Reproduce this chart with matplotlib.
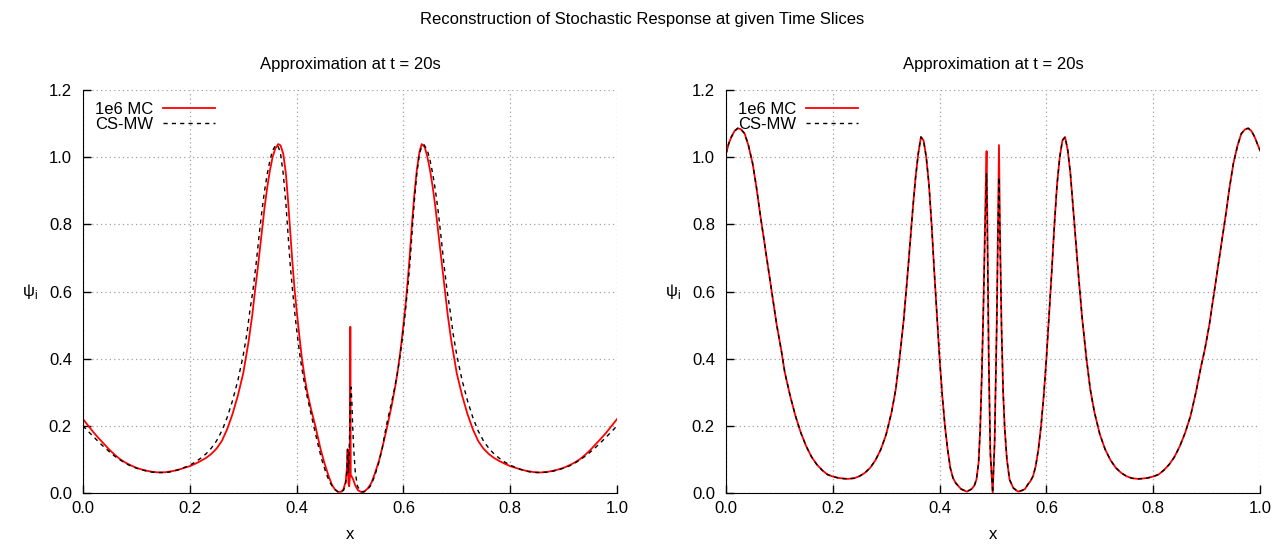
import matplotlib
matplotlib.use("Agg")
import matplotlib.pyplot as plt
from matplotlib.ticker import FormatStrFormatter

plt.rcParams['font.family'] = ['Liberation Sans', 'DejaVu Sans']
plt.rcParams['font.size'] = 12
plt.rcParams['mathtext.fontset'] = 'custom'
plt.rcParams['mathtext.rm'] = 'Liberation Sans'

# ---- data ----
# left panel, 1e6 MC
x_mc_left = [0.0, 0.01, 0.02, 0.03, 0.04, 0.05, 0.06, 0.07, 0.08, 0.09, 0.10, 0.11, 0.12, 0.13,
             0.144, 0.155, 0.17, 0.18, 0.19, 0.2, 0.21, 0.22, 0.23, 0.24, 0.25, 0.26, 0.27, 0.28,
             0.29, 0.30, 0.31, 0.317, 0.322, 0.328, 0.335, 0.34, 0.345, 0.35, 0.355, 0.36, 0.3657,
             0.37, 0.375, 0.38, 0.384, 0.388, 0.392, 0.396, 0.40, 0.405, 0.41, 0.415, 0.42, 0.427,
             0.435, 0.445, 0.452, 0.46, 0.466, 0.472, 0.478, 0.484, 0.488, 0.492, 0.494, 0.4955,
             0.497, 0.4985, 0.4998, 0.5006, 0.5014, 0.503, 0.506, 0.51, 0.515, 0.521, 0.527, 0.533,
             0.54, 0.547, 0.555, 0.562, 0.57, 0.578, 0.585, 0.59, 0.595, 0.6, 0.604, 0.608, 0.612,
             0.616, 0.62, 0.625, 0.63, 0.6343, 0.64, 0.645, 0.65, 0.655, 0.66, 0.665, 0.672, 0.678,
             0.683, 0.69, 0.70, 0.71, 0.72, 0.73, 0.74, 0.75, 0.76, 0.77, 0.78, 0.79, 0.8, 0.81,
             0.82, 0.83, 0.845, 0.856, 0.87, 0.88, 0.89, 0.90, 0.91, 0.92, 0.93, 0.94, 0.95, 0.96,
             0.97, 0.98, 0.99, 1.0]
psi_mc_left = [0.22, 0.2, 0.18, 0.162, 0.145, 0.128, 0.113, 0.1, 0.09, 0.082, 0.075, 0.07, 0.066, 0.063,
               0.061, 0.062, 0.066, 0.07, 0.075, 0.08, 0.087, 0.095, 0.104, 0.116, 0.132, 0.155, 0.19, 0.235,
               0.29, 0.356, 0.45, 0.53, 0.6, 0.68, 0.78, 0.85, 0.91, 0.96, 1.0, 1.025, 1.039,
               1.035, 1.01, 0.95, 0.87, 0.78, 0.69, 0.61, 0.545, 0.47, 0.4, 0.345, 0.3, 0.25,
               0.2, 0.13, 0.09, 0.05, 0.025, 0.01, 0.003, 0.004, 0.012, 0.035, 0.07, 0.13,
               0.03, 0.02, 0.05, 0.495, 0.05, 0.05, 0.04, 0.022, 0.008, 0.003, 0.005, 0.013,
               0.03, 0.06, 0.1, 0.145, 0.2, 0.26, 0.32, 0.37, 0.43, 0.5, 0.56, 0.63, 0.71,
               0.8, 0.88, 0.96, 1.015, 1.039, 1.03, 1.0, 0.96, 0.91, 0.85, 0.78, 0.68, 0.6,
               0.53, 0.45, 0.356, 0.29, 0.235, 0.19, 0.155, 0.132, 0.116, 0.104, 0.095, 0.087, 0.08, 0.075,
               0.07, 0.066, 0.062, 0.061, 0.063, 0.066, 0.07, 0.075, 0.082, 0.09, 0.1, 0.113, 0.128, 0.145,
               0.162, 0.18, 0.2, 0.22]

# left panel, CS-MW
x_cs_left = [0.0, 0.01, 0.02, 0.03, 0.04, 0.05, 0.06, 0.07, 0.08, 0.09, 0.10, 0.11, 0.12, 0.13,
             0.15, 0.16, 0.17, 0.18, 0.19, 0.2, 0.21, 0.22, 0.23, 0.24, 0.25, 0.26, 0.27, 0.28,
             0.29, 0.30, 0.307, 0.3127, 0.318, 0.324, 0.33, 0.335, 0.34, 0.345, 0.35, 0.355, 0.3614,
             0.366, 0.37, 0.375, 0.38, 0.384, 0.388, 0.392, 0.397, 0.402, 0.407, 0.412, 0.418, 0.425,
             0.432, 0.44, 0.447, 0.455, 0.462, 0.47, 0.477, 0.483, 0.488, 0.492, 0.4945, 0.4955,
             0.497, 0.499, 0.5005, 0.502, 0.5035, 0.505, 0.507, 0.51, 0.514, 0.52, 0.525, 0.53,
             0.538, 0.545, 0.553, 0.56, 0.568, 0.575, 0.582, 0.588, 0.593, 0.598, 0.603, 0.608,
             0.612, 0.616, 0.62, 0.625, 0.63, 0.634, 0.6386, 0.645, 0.65, 0.655, 0.66, 0.665, 0.67,
             0.676, 0.682, 0.6873, 0.693, 0.70, 0.71, 0.72, 0.73, 0.74, 0.75, 0.76, 0.77, 0.78,
             0.79, 0.8, 0.81, 0.82, 0.83, 0.84, 0.85, 0.87, 0.88, 0.89, 0.90, 0.91, 0.92, 0.93,
             0.94, 0.95, 0.96, 0.97, 0.98, 0.99, 1.0]
psi_cs_left = [0.2, 0.183, 0.167, 0.151, 0.136, 0.122, 0.109, 0.098, 0.088, 0.08, 0.074, 0.069, 0.065, 0.062,
               0.061, 0.062, 0.065, 0.07, 0.076, 0.083, 0.092, 0.103, 0.116, 0.133, 0.155, 0.185, 0.225, 0.275,
               0.335, 0.41, 0.475, 0.545, 0.6, 0.68, 0.77, 0.84, 0.9, 0.95, 0.99, 1.02, 1.037,
               1.03, 1.01, 0.95, 0.86, 0.77, 0.68, 0.61, 0.53, 0.46, 0.4, 0.35, 0.3, 0.25,
               0.2, 0.145, 0.1, 0.06, 0.032, 0.013, 0.004, 0.003, 0.008, 0.03, 0.07, 0.13,
               0.06, 0.16, 0.28, 0.315, 0.27, 0.2, 0.13, 0.06, 0.02, 0.005, 0.003, 0.006,
               0.02, 0.045, 0.085, 0.13, 0.2, 0.25, 0.3, 0.35, 0.4, 0.46, 0.53, 0.61,
               0.68, 0.77, 0.86, 0.95, 1.01, 1.03, 1.037, 1.02, 0.99, 0.95, 0.9, 0.84, 0.77,
               0.68, 0.6, 0.545, 0.475, 0.41, 0.335, 0.275, 0.225, 0.185, 0.155, 0.133, 0.116, 0.103,
               0.092, 0.083, 0.076, 0.07, 0.065, 0.062, 0.061, 0.062, 0.065, 0.069, 0.074, 0.08, 0.088, 0.098,
               0.109, 0.122, 0.136, 0.151, 0.167, 0.183, 0.2]

# right panel (both series on the same x points)
x_right = [0.0, 0.005, 0.01, 0.016, 0.022, 0.028, 0.035, 0.042, 0.05, 0.057, 0.064, 0.072, 0.08,
           0.088, 0.095, 0.103, 0.11, 0.12, 0.13, 0.14, 0.15, 0.16, 0.17, 0.18, 0.19, 0.2, 0.21,
           0.22, 0.228, 0.24, 0.25, 0.26, 0.27, 0.28, 0.29, 0.3, 0.31, 0.318, 0.325, 0.333, 0.34,
           0.345, 0.35, 0.355, 0.36, 0.365, 0.37, 0.375, 0.38, 0.385, 0.39, 0.395, 0.40, 0.405,
           0.41, 0.415, 0.42, 0.425, 0.43, 0.44, 0.451, 0.46, 0.465, 0.469, 0.473, 0.476, 0.479,
           0.482, 0.485, 0.4865, 0.488, 0.4895, 0.492, 0.495, 0.4994, 0.503, 0.507, 0.5095, 0.5112,
           0.5131, 0.516, 0.519, 0.522, 0.526, 0.531, 0.538, 0.547, 0.555, 0.56, 0.565, 0.57,
           0.575, 0.58, 0.585, 0.59, 0.595, 0.6, 0.605, 0.61, 0.615, 0.62, 0.625, 0.63, 0.635,
           0.64, 0.645, 0.65, 0.655, 0.66, 0.667, 0.675, 0.682, 0.69, 0.7, 0.71, 0.72, 0.73, 0.74,
           0.75, 0.76, 0.772, 0.78, 0.79, 0.8, 0.81, 0.82, 0.83, 0.84, 0.85, 0.86, 0.87, 0.88,
           0.89, 0.897, 0.905, 0.912, 0.92, 0.928, 0.936, 0.943, 0.95, 0.958, 0.965, 0.972, 0.978,
           0.984, 0.99, 0.995, 1.0]
psi_mc_right = [1.01, 1.04, 1.06, 1.078, 1.086, 1.083, 1.07, 1.035, 0.98, 0.91, 0.83, 0.745, 0.66,
                0.575, 0.5, 0.43, 0.36, 0.29, 0.23, 0.18, 0.14, 0.108, 0.085, 0.068, 0.055, 0.049, 0.045,
                0.043, 0.042, 0.044, 0.05, 0.06, 0.075, 0.098, 0.13, 0.175, 0.24, 0.31, 0.4, 0.52, 0.65,
                0.75, 0.85, 0.94, 1.01, 1.06, 1.05, 1.0, 0.92, 0.8, 0.66, 0.53, 0.4, 0.29,
                0.2, 0.13, 0.075, 0.045, 0.03, 0.012, 0.004, 0.012, 0.022, 0.04, 0.09, 0.19, 0.35,
                0.55, 0.8, 0.92, 1.018, 0.8, 0.4, 0.12, 0.0, 0.15, 0.5, 0.82, 1.036,
                0.78, 0.49, 0.3, 0.19, 0.1, 0.04, 0.015, 0.004, 0.008, 0.012, 0.025, 0.035,
                0.05, 0.08, 0.13, 0.2, 0.29, 0.4, 0.53, 0.66, 0.8, 0.92, 1.0, 1.05, 1.06,
                1.02, 0.95, 0.85, 0.75, 0.65, 0.52, 0.4, 0.31, 0.24, 0.175, 0.13, 0.098, 0.075, 0.06,
                0.05, 0.044, 0.042, 0.043, 0.045, 0.049, 0.055, 0.068, 0.085, 0.108, 0.14, 0.18, 0.23, 0.3,
                0.38, 0.43, 0.5, 0.575, 0.66, 0.745, 0.83, 0.91, 0.98, 1.035, 1.07, 1.083, 1.086,
                1.078, 1.06, 1.04, 1.02]
psi_cs_right = [1.01, 1.04, 1.06, 1.078, 1.086, 1.083, 1.07, 1.035, 0.98, 0.91, 0.83, 0.745, 0.66,
                0.575, 0.5, 0.43, 0.36, 0.29, 0.23, 0.18, 0.14, 0.108, 0.085, 0.068, 0.055, 0.049, 0.045,
                0.043, 0.042, 0.044, 0.05, 0.06, 0.075, 0.098, 0.13, 0.175, 0.24, 0.31, 0.4, 0.52, 0.65,
                0.75, 0.85, 0.94, 1.01, 1.06, 1.05, 1.0, 0.92, 0.8, 0.66, 0.53, 0.4, 0.29,
                0.2, 0.13, 0.075, 0.045, 0.03, 0.012, 0.004, 0.012, 0.022, 0.04, 0.09, 0.19, 0.35,
                0.55, 0.78, 0.88, 0.95, 0.76, 0.4, 0.12, 0.0, 0.15, 0.5, 0.8, 0.94,
                0.76, 0.49, 0.3, 0.19, 0.1, 0.04, 0.015, 0.004, 0.008, 0.012, 0.025, 0.035,
                0.05, 0.08, 0.13, 0.2, 0.29, 0.4, 0.53, 0.66, 0.8, 0.92, 1.0, 1.05, 1.06,
                1.02, 0.95, 0.85, 0.75, 0.65, 0.52, 0.4, 0.31, 0.24, 0.175, 0.13, 0.098, 0.075, 0.06,
                0.05, 0.044, 0.042, 0.043, 0.045, 0.049, 0.055, 0.068, 0.085, 0.108, 0.14, 0.18, 0.23, 0.3,
                0.38, 0.43, 0.5, 0.575, 0.66, 0.745, 0.83, 0.91, 0.98, 1.035, 1.07, 1.083, 1.086,
                1.078, 1.06, 1.04, 1.02]

xticks = [0.0, 0.2, 0.4, 0.6, 0.8, 1.0]
yticks = [0.0, 0.2, 0.4, 0.6, 0.8, 1.0, 1.2]

fig = plt.figure(figsize=(12.84, 5.49), dpi=100)
fig.suptitle('Reconstruction of Stochastic Response at given Time Slices', fontsize=12, y=0.964, va='center')

ax1 = fig.add_axes([83 / 1284, 1 - 493 / 549, 534 / 1284, 403 / 549])
ax2 = fig.add_axes([726 / 1284, 1 - 493 / 549, 534 / 1284, 403 / 549])

panels = [(ax1, x_mc_left, psi_mc_left, x_cs_left, psi_cs_left),
          (ax2, x_right, psi_mc_right, x_right, psi_cs_right)]

for ax, xm, ym, xc, yc in panels:
    ax.plot(xm, ym, color='red', lw=1.3, label='1e6 MC')
    ax.plot(xc, yc, color='black', lw=1.0, dashes=(3, 3), label='CS-MW')
    ax.set_xlim(0, 1)
    ax.set_ylim(0, 1.2)
    ax.set_xticks(xticks)
    ax.set_yticks(yticks)
    ax.xaxis.set_major_formatter(FormatStrFormatter('%.1f'))
    ax.yaxis.set_major_formatter(FormatStrFormatter('%.1f'))
    ax.tick_params(direction='in', length=6, width=1, pad=6)
    ax.tick_params(axis='y', pad=8)
    ax.grid(True, color='#a0a0a0', lw=0.9, linestyle=(0, (1, 2.5)))
    ax.spines['top'].set_visible(False)
    ax.spines['right'].set_visible(False)
    ax.set_title('Approximation at t = 20s', fontsize=12, pad=15)
    ax.set_xlabel('x', fontsize=12, labelpad=8)
    ax.set_ylabel(r'ψ$_{\mathrm{i}}$', fontsize=12, rotation=0, va='center', ha='center')
    ax.yaxis.set_label_coords(-53 / 534, 0.5)
    ax.legend(loc='upper left', markerfirst=False, frameon=False, handlelength=3.1,
              handletextpad=0.6, labelspacing=0.0, borderaxespad=0.3, borderpad=0.4)

fig.savefig('out.png', dpi=100)
